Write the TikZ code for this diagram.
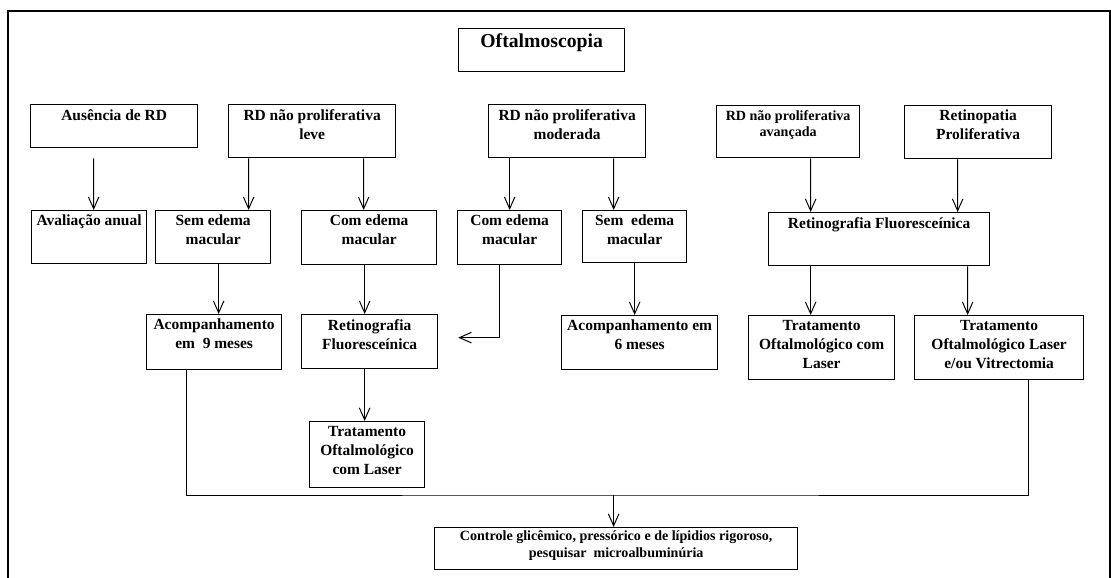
\documentclass[tikz,border=0pt]{standalone}
\usepackage{fontspec}
\setmainfont{Liberation Serif}
\usetikzlibrary{arrows.meta}
\def\px{0.025cm}
\begin{document}
\begin{tikzpicture}[x=\px, y=-\px,
    box/.style 2 args={draw, line width=.9pt, anchor=north west, inner sep=0pt,
      minimum width=#1*\px, minimum height=#2*\px},
    lbl/.style={anchor=north, align=center, inner sep=3.5pt,
      font=\bfseries\fontsize{11}{13.5}\selectfont},
    small/.style={lbl, font=\bfseries\fontsize{10}{12}\selectfont},
    line/.style={line width=.7pt},
    arr/.style={line, -{Straight Barb[length=8.5pt,width=7.5pt]}}]
        \useasboundingbox (0,0) rectangle (1111,578);
        \draw[line width=.9pt] (8,578) -- (8,11) -- (1110,11) -- (1110,578);
        \node[box={166}{43}, label={[lbl, inner sep=4pt, font=\bfseries\fontsize{14}{16}\selectfont]north:Oftalmoscopia}] (oft) at (458,28) {};
        \node[box={167}{43}, label={[lbl]north:Ausência de RD}] (aus) at (30,104) {};
        \node[box={167}{53}, label={[lbl]north:{RD não proliferativa\\leve}}] (leve) at (228,104) {};
        \node[box={157}{53}, label={[lbl]north:{RD não proliferativa\\moderada}}] (mod) at (488,104) {};
        \node[box={143}{52}, label={[small]north:{RD não proliferativa\\avançada}}] (avan) at (716,105) {};
        \node[box={147}{53}, label={[lbl]north:{Retinopatia\\Proliferativa}}] (prol) at (904,105) {};
        \node[box={115}{53}, label={[lbl]north:Avaliação anual}] (aval) at (31,210) {};
        \node[box={115}{53}, label={[lbl]north:{Sem edema\\macular}}] (semA) at (155,210) {};
        \node[box={135}{54}, label={[lbl]north:{Com edema\\macular}}] (comA) at (301,210) {};
        \node[box={104}{54}, label={[lbl]north:{Com edema\\macular}}] (comB) at (457,210) {};
        \node[box={104}{52}, label={[lbl]north:{Sem\ \ edema\\macular}}] (semB) at (582,210) {};
        \node[box={221}{53}, label={[lbl]north:Retinografia Fluoresceínica}] (retR) at (768,212) {};
        \node[box={135}{55}, label={[lbl]north:{Acompanhamento\\em\ \ 9 meses}}] (acoA) at (146,314) {};
        \node[box={136}{54}, label={[lbl]north:{Retinografia\\Fluoresceínica}}] (retM) at (301,314) {};
        \node[box={115}{66}, label={[lbl]north:{Tratamento\\Oftalmológico\\com Laser}}] (tratM) at (309,421) {};
        \node[box={156}{54}, label={[lbl]north:{Acompanhamento em\\6 meses}}] (acoB) at (561,315) {};
        \node[box={146}{64}, label={[lbl]north:{Tratamento\\Oftalmológico com\\Laser}}] (tratR) at (748,315) {};
        \node[box={169}{64}, label={[lbl]north:{Tratamento\\Oftalmológico Laser\\e/ou Vitrectomia}}] (tratV) at (914,315) {};
        \node[box={363}{42}, label={[small, inner sep=2.5pt]north:{Controle glicêmico, pressórico e de lípidios rigoroso,\\pesquisar\ \ microalbuminúria}}] (ctrl) at (434,527) {};
        \draw[arr] ([shift={(-20.5,10)}]aus.south) -- ([shift={(4.5,0)}]aval.north);
        \draw[arr] ([shift={(-63.5,0)}]leve.south) -- ([shift={(35.5,0)}]semA.north);
        \draw[arr] ([shift={(51.5,0)}]leve.south) -- ([shift={(-5.5,0)}]comA.north);
        \draw[arr] ([shift={(-57.5,0)}]mod.south) -- (comB.north);
        \draw[arr] ([shift={(46.5,0)}]mod.south) -- ([shift={(-21,0)}]semB.north);
        \draw[arr] ([shift={(22.5,0)}]avan.south) -- ([shift={(-68.5,0)}]retR.north);
        \draw[arr] ([shift={(-20.5,0)}]prol.south) -- ([shift={(78.5,0)}]retR.north);
        \draw[arr] ([shift={(5.5,0)}]semA.south) -- ([shift={(4.5,0)}]acoA.north);
        \draw[arr] ([shift={(-4.5,0)}]comA.south) -- ([shift={(-5,0)}]retM.north);
        \draw[arr] ([shift={(-10,0)}]comB.south) |- ([shift={(20,-4)}]retM.east);
        \draw[arr] (semB.south) -- ([shift={(-5,0)}]acoB.north);
        \draw[arr] ([shift={(-68.5,0)}]retR.south) -- ([shift={(-11,0)}]tratR.north);
        \draw[arr] ([shift={(88.5,0)}]retR.south) -- ([shift={(-31.5,0)}]tratV.north);
        \draw[arr] ([shift={(-5,0)}]retM.south) -- ([shift={(-2.5,0)}]tratM.north);
        \coordinate (bus) at ([shift={(-2.5,-32)}]ctrl.north);
        \draw[line] ([shift={(-27.5,0)}]acoA.south) |- (bus) -| ([shift={(29.5,0)}]tratV.south);
        \draw[arr] (bus) -- ([shift={(-2.5,0)}]ctrl.north);
\end{tikzpicture}
\end{document}
